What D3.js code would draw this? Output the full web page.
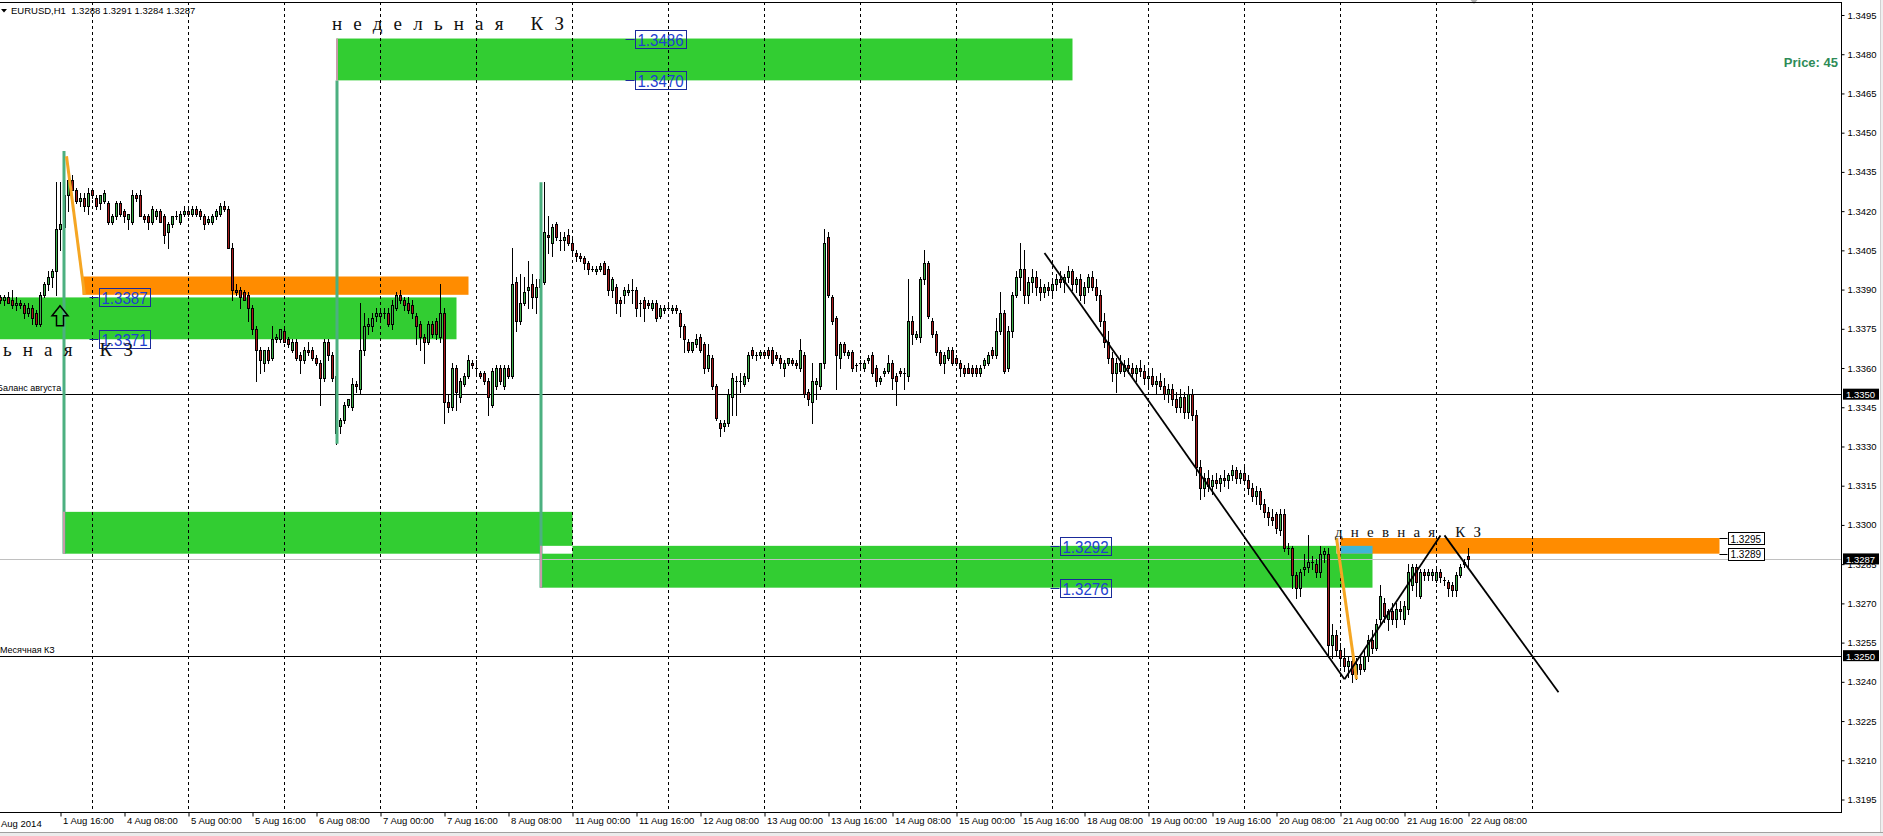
<!DOCTYPE html>
<html>
<head>
<meta charset="utf-8">
<script src="https://cdn.jsdelivr.net/npm/d3@7/dist/d3.min.js"></script>
<style>
  html, body { margin: 0; padding: 0; background: #fff; overflow: hidden; }
  svg { display: block; }
</style>
</head>
<body>
<div id="chart"></div>
<script>
// EURUSD H1 bars, [open, high, low, close]
// Fri 1 Aug, 01:00 .. 23:00
const fri01Aug = [
  [1.3387,1.3388,1.3385,1.3386],[1.3386,1.3388,1.3384,1.3387],[1.3387,1.3389,1.3385,1.3385],[1.3386,1.3390,1.3383,1.3384],
  [1.3384,1.3387,1.3382,1.3385],[1.3385,1.3386,1.3383,1.3384],[1.3384,1.3385,1.3379,1.3381],[1.3381,1.3385,1.3380,1.3383],
  [1.3383,1.3384,1.3377,1.3379],[1.3381,1.3382,1.3376,1.3377],[1.3377,1.3389,1.3376,1.3388],[1.3388,1.3393,1.3387,1.3392],
  [1.3392,1.3397,1.3390,1.3395],[1.3395,1.3398,1.3391,1.3397],[1.3397,1.3431,1.3388,1.3413],[1.3413,1.3431,1.3405,1.3415],
  [1.3414,1.3443,1.3407,1.3426],[1.3426,1.3435,1.3420,1.3432],[1.3432,1.3434,1.3428,1.3428],[1.3428,1.3429,1.3423,1.3424],
  [1.3424,1.3427,1.3422,1.3425],[1.3425,1.3427,1.3420,1.3422],[1.3422,1.3429,1.3419,1.3427]
];
// Mon 4 Aug .. Fri 8 Aug
const week04Aug = [
  // 4 Aug
  [1.3428,1.3429,1.3425,1.3426],[1.3425,1.3426,1.3421,1.3422],[1.3423,1.3426,1.3421,1.3426],[1.3424,1.3428,1.3423,1.3427],
  [1.3423,1.3424,1.3415,1.3416],[1.3416,1.3419,1.3415,1.3418],[1.3418,1.3424,1.3417,1.3423],[1.3423,1.3424,1.3418,1.3419],
  [1.3420,1.3421,1.3416,1.3418],[1.3417,1.3419,1.3413,1.3419],[1.3416,1.3428,1.3415,1.3426],[1.3426,1.3427,1.3424,1.3425],
  [1.3426,1.3428,1.3418,1.3418],[1.3418,1.3419,1.3416,1.3417],[1.3418,1.3419,1.3413,1.3416],[1.3416,1.3422,1.3415,1.3421],
  [1.3418,1.3421,1.3417,1.3420],[1.3420,1.3421,1.3416,1.3416],[1.3418,1.3419,1.3408,1.3411],[1.3412,1.3416,1.3406,1.3415],
  [1.3415,1.3418,1.3414,1.3418],[1.3418,1.3420,1.3417,1.3418],[1.3416,1.3420,1.3415,1.3419],[1.3419,1.3422,1.3418,1.3420],
  // 5 Aug
  [1.3420,1.3421,1.3418,1.3419],[1.3419,1.3422,1.3418,1.3421],[1.3421,1.3422,1.3418,1.3419],[1.3420,1.3421,1.3417,1.3418],
  [1.3418,1.3419,1.3413,1.3415],[1.3416,1.3418,1.3415,1.3417],[1.3416,1.3419,1.3415,1.3418],[1.3418,1.3421,1.3417,1.3420],
  [1.3419,1.3423,1.3418,1.3422],[1.3422,1.3424,1.3420,1.3421],[1.3421,1.3422,1.3406,1.3406],[1.3406,1.3408,1.3386,1.3390],
  [1.3390,1.3392,1.3388,1.3389],[1.3390,1.3391,1.3383,1.3387],[1.3389,1.3390,1.3386,1.3386],[1.3388,1.3389,1.3378,1.3383],
  [1.3383,1.3384,1.3373,1.3375],[1.3375,1.3376,1.3355,1.3367],[1.3367,1.3368,1.3358,1.3363],[1.3362,1.3367,1.3359,1.3367],
  [1.3367,1.3368,1.3362,1.3363],[1.3364,1.3376,1.3363,1.3371],[1.3371,1.3373,1.3370,1.3372],[1.3371,1.3375,1.3370,1.3375],
  // 6 Aug
  [1.3374,1.3375,1.3370,1.3370],[1.3371,1.3372,1.3368,1.3369],[1.3367,1.3371,1.3366,1.3370],[1.3370,1.3371,1.3363,1.3364],
  [1.3365,1.3366,1.3358,1.3363],[1.3363,1.3368,1.3362,1.3367],[1.3367,1.3370,1.3365,1.3366],[1.3367,1.3368,1.3363,1.3364],
  [1.3364,1.3365,1.3361,1.3362],[1.3362,1.3363,1.3346,1.3356],[1.3356,1.3371,1.3355,1.3370],[1.3370,1.3371,1.3363,1.3365],
  [1.3365,1.3366,1.3355,1.3356],[1.3357,1.3358,1.3331,1.3335],[1.3338,1.3341,1.3335,1.3340],[1.3340,1.3347,1.3339,1.3346],
  [1.3346,1.3348,1.3345,1.3348],[1.3345,1.3356,1.3344,1.3354],[1.3354,1.3355,1.3351,1.3353],[1.3352,1.3385,1.3350,1.3367],
  [1.3367,1.3381,1.3365,1.3376],[1.3376,1.3379,1.3373,1.3377],[1.3376,1.3381,1.3374,1.3379],[1.3380,1.3383,1.3378,1.3381],
  // 7 Aug
  [1.3380,1.3383,1.3378,1.3381],[1.3381,1.3383,1.3379,1.3381],[1.3381,1.3383,1.3376,1.3377],[1.3377,1.3386,1.3375,1.3384],
  [1.3383,1.3389,1.3382,1.3388],[1.3388,1.3390,1.3385,1.3386],[1.3386,1.3387,1.3382,1.3384],[1.3385,1.3387,1.3381,1.3382],
  [1.3384,1.3386,1.3379,1.3381],[1.3380,1.3381,1.3369,1.3376],[1.3377,1.3378,1.3367,1.3372],[1.3372,1.3373,1.3362,1.3370],
  [1.3370,1.3378,1.3369,1.3377],[1.3377,1.3378,1.3372,1.3373],[1.3378,1.3379,1.3371,1.3373],[1.3372,1.3392,1.3370,1.3381],
  [1.3381,1.3383,1.3339,1.3347],[1.3347,1.3350,1.3343,1.3345],[1.3345,1.3362,1.3344,1.3360],[1.3360,1.3361,1.3344,1.3351],
  [1.3349,1.3356,1.3347,1.3355],[1.3354,1.3358,1.3353,1.3357],[1.3357,1.3365,1.3356,1.3363],[1.3362,1.3363,1.3360,1.3361],
  // 8 Aug
  [1.3360,1.3363,1.3357,1.3360],[1.3358,1.3359,1.3356,1.3357],[1.3358,1.3359,1.3354,1.3355],[1.3355,1.3356,1.3342,1.3349],
  [1.3346,1.3360,1.3345,1.3359],[1.3353,1.3361,1.3352,1.3360],[1.3360,1.3361,1.3354,1.3355],[1.3353,1.3361,1.3352,1.3360],
  [1.3360,1.3361,1.3356,1.3357],[1.3357,1.3406,1.3356,1.3392],[1.3393,1.3395,1.3374,1.3378],[1.3378,1.3396,1.3377,1.3385],
  [1.3385,1.3395,1.3384,1.3389],[1.3390,1.3401,1.3383,1.3391],[1.3392,1.3396,1.3383,1.3387],[1.3387,1.3394,1.3381,1.3391],
  [1.3391,1.3395,1.3389,1.3394],[1.3393,1.3431,1.3392,1.3412],[1.3411,1.3418,1.3404,1.3410],[1.3408,1.3415,1.3403,1.3414],
  [1.3415,1.3416,1.3409,1.3410],[1.3409,1.3412,1.3405,1.3409],[1.3409,1.3412,1.3405,1.3410],[1.3411,1.3413,1.3407,1.3408]
];
// Mon 11 Aug .. Fri 15 Aug
const week11Aug = [
  // 11 Aug
  [1.3408,1.3410,1.3404,1.3405],[1.3404,1.3405,1.3401,1.3403],[1.3403,1.3404,1.3401,1.3402],[1.3402,1.3403,1.3398,1.3400],
  [1.3400,1.3401,1.3396,1.3398],[1.3398,1.3399,1.3397,1.3398],[1.3397,1.3399,1.3396,1.3398],[1.3398,1.3400,1.3397,1.3399],
  [1.3400,1.3401,1.3396,1.3396],[1.3398,1.3399,1.3388,1.3390],[1.3390,1.3395,1.3387,1.3394],[1.3391,1.3392,1.3381,1.3385],
  [1.3386,1.3387,1.3380,1.3385],[1.3388,1.3391,1.3385,1.3390],[1.3389,1.3392,1.3388,1.3390],[1.3390,1.3394,1.3385,1.3390],
  [1.3390,1.3391,1.3380,1.3383],[1.3385,1.3386,1.3380,1.3385],[1.3386,1.3387,1.3378,1.3383],[1.3385,1.3386,1.3383,1.3384],
  [1.3383,1.3386,1.3382,1.3385],[1.3385,1.3386,1.3378,1.3379],[1.3380,1.3384,1.3379,1.3383],[1.3382,1.3384,1.3381,1.3383],
  // 12 Aug
  [1.3383,1.3384,1.3382,1.3383],[1.3382,1.3384,1.3381,1.3383],[1.3383,1.3384,1.3381,1.3382],[1.3381,1.3382,1.3372,1.3376],
  [1.3376,1.3377,1.3366,1.3371],[1.3370,1.3371,1.3366,1.3367],[1.3367,1.3370,1.3366,1.3370],[1.3369,1.3373,1.3368,1.3371],
  [1.3372,1.3373,1.3366,1.3367],[1.3369,1.3370,1.3358,1.3360],[1.3360,1.3369,1.3359,1.3365],[1.3364,1.3365,1.3352,1.3353],
  [1.3353,1.3354,1.3340,1.3341],[1.3339,1.3340,1.3334,1.3337],[1.3338,1.3340,1.3336,1.3339],[1.3339,1.3352,1.3338,1.3350],
  [1.3349,1.3358,1.3342,1.3356],[1.3355,1.3357,1.3342,1.3355],[1.3355,1.3358,1.3351,1.3355],[1.3354,1.3358,1.3353,1.3357],
  [1.3356,1.3366,1.3355,1.3365],[1.3367,1.3368,1.3364,1.3365],[1.3365,1.3366,1.3363,1.3365],[1.3365,1.3367,1.3364,1.3366],
  // 13 Aug
  [1.3366,1.3367,1.3364,1.3365],[1.3367,1.3368,1.3364,1.3365],[1.3367,1.3368,1.3361,1.3362],[1.3365,1.3366,1.3363,1.3364],
  [1.3364,1.3365,1.3360,1.3362],[1.3360,1.3363,1.3357,1.3362],[1.3362,1.3364,1.3361,1.3364],[1.3363,1.3364,1.3361,1.3362],
  [1.3362,1.3363,1.3360,1.3361],[1.3360,1.3371,1.3359,1.3367],[1.3365,1.3366,1.3349,1.3350],[1.3351,1.3352,1.3346,1.3348],
  [1.3347,1.3362,1.3339,1.3355],[1.3354,1.3356,1.3348,1.3355],[1.3353,1.3362,1.3352,1.3362],[1.3362,1.3413,1.3360,1.3408],
  [1.3410,1.3412,1.3387,1.3388],[1.3387,1.3388,1.3377,1.3378],[1.3379,1.3380,1.3352,1.3365],[1.3364,1.3370,1.3360,1.3369],
  [1.3369,1.3370,1.3365,1.3366],[1.3365,1.3367,1.3364,1.3366],[1.3366,1.3367,1.3359,1.3360],[1.3361,1.3362,1.3359,1.3361],
  // 14 Aug
  [1.3362,1.3363,1.3360,1.3362],[1.3360,1.3363,1.3359,1.3362],[1.3363,1.3365,1.3362,1.3364],[1.3365,1.3366,1.3357,1.3358],
  [1.3360,1.3361,1.3353,1.3355],[1.3355,1.3357,1.3354,1.3356],[1.3358,1.3360,1.3357,1.3359],[1.3359,1.3365,1.3358,1.3362],
  [1.3362,1.3363,1.3352,1.3356],[1.3357,1.3358,1.3346,1.3355],[1.3359,1.3360,1.3357,1.3358],[1.3358,1.3360,1.3352,1.3358],
  [1.3357,1.3394,1.3355,1.3378],[1.3378,1.3380,1.3369,1.3373],[1.3372,1.3374,1.3371,1.3373],[1.3372,1.3395,1.3370,1.3394],
  [1.3394,1.3405,1.3392,1.3400],[1.3400,1.3401,1.3379,1.3380],[1.3378,1.3379,1.3372,1.3373],[1.3373,1.3374,1.3365,1.3366],
  [1.3366,1.3367,1.3361,1.3362],[1.3362,1.3366,1.3358,1.3365],[1.3364,1.3368,1.3363,1.3367],[1.3367,1.3368,1.3361,1.3362],
  // 15 Aug
  [1.3364,1.3365,1.3361,1.3362],[1.3362,1.3363,1.3357,1.3360],[1.3360,1.3361,1.3357,1.3358],[1.3360,1.3362,1.3358,1.3358],
  [1.3360,1.3361,1.3357,1.3358],[1.3360,1.3361,1.3357,1.3358],[1.3358,1.3361,1.3357,1.3360],[1.3361,1.3364,1.3360,1.3363],
  [1.3362,1.3366,1.3361,1.3365],[1.3367,1.3368,1.3364,1.3365],[1.3365,1.3379,1.3364,1.3374],[1.3374,1.3389,1.3373,1.3381],
  [1.3381,1.3382,1.3358,1.3359],[1.3360,1.3376,1.3359,1.3374],[1.3374,1.3389,1.3372,1.3388],[1.3388,1.3397,1.3387,1.3395],
  [1.3395,1.3408,1.3390,1.3398],[1.3398,1.3405,1.3385,1.3388],[1.3388,1.3395,1.3385,1.3393],[1.3393,1.3398,1.3389,1.3395],
  [1.3395,1.3397,1.3388,1.3391],[1.3391,1.3394,1.3386,1.3389],[1.3389,1.3392,1.3387,1.3391],[1.3391,1.3393,1.3388,1.3390]
];
// Mon 18 Aug .. Fri 22 Aug 08:00
const week18Aug = [
  // 18 Aug
  [1.3390,1.3394,1.3387,1.3392],[1.3392,1.3396,1.3390,1.3394],[1.3394,1.3397,1.3391,1.3393],[1.3393,1.3396,1.3389,1.3395],
  [1.3395,1.3399,1.3393,1.3397],[1.3397,1.3398,1.3390,1.3392],[1.3392,1.3395,1.3389,1.3394],[1.3394,1.3396,1.3386,1.3388],
  [1.3388,1.3393,1.3385,1.3391],[1.3391,1.3396,1.3389,1.3395],[1.3395,1.3397,1.3390,1.3391],[1.3391,1.3394,1.3386,1.3388],
  [1.3388,1.3390,1.3376,1.3378],[1.3378,1.3381,1.3368,1.3370],[1.3370,1.3374,1.3362,1.3364],[1.3364,1.3366,1.3355,1.3358],
  [1.3358,1.3364,1.3351,1.3362],[1.3362,1.3365,1.3358,1.3359],[1.3359,1.3363,1.3357,1.3361],[1.3361,1.3364,1.3358,1.3360],
  [1.3360,1.3362,1.3356,1.3358],[1.3358,1.3361,1.3355,1.3360],[1.3360,1.3363,1.3357,1.3359],[1.3359,1.3361,1.3354,1.3356],
  // 19 Aug
  [1.3356,1.3359,1.3352,1.3357],[1.3357,1.3360,1.3353,1.3354],[1.3354,1.3357,1.3350,1.3355],[1.3355,1.3358,1.3352,1.3353],
  [1.3353,1.3356,1.3348,1.3350],[1.3350,1.3354,1.3347,1.3352],[1.3352,1.3354,1.3346,1.3348],[1.3348,1.3351,1.3343,1.3345],
  [1.3345,1.3352,1.3343,1.3349],[1.3349,1.3351,1.3341,1.3343],[1.3343,1.3353,1.3341,1.3350],[1.3350,1.3352,1.3340,1.3342],
  [1.3342,1.3344,1.3319,1.3322],[1.3322,1.3325,1.3310,1.3314],[1.3314,1.3320,1.3311,1.3318],[1.3318,1.3321,1.3313,1.3315],
  [1.3315,1.3319,1.3312,1.3317],[1.3317,1.3320,1.3314,1.3316],[1.3316,1.3319,1.3313,1.3318],[1.3318,1.3321,1.3315,1.3317],
  [1.3317,1.3320,1.3314,1.3319],[1.3319,1.3323,1.3317,1.3321],[1.3321,1.3322,1.3316,1.3318],[1.3318,1.3321,1.3316,1.3320],
  // 20 Aug
  [1.3320,1.3322,1.3316,1.3317],[1.3317,1.3319,1.3312,1.3314],[1.3314,1.3316,1.3309,1.3311],[1.3311,1.3315,1.3308,1.3313],
  [1.3313,1.3314,1.3306,1.3308],[1.3308,1.3310,1.3303,1.3305],[1.3305,1.3307,1.3300,1.3303],[1.3303,1.3306,1.3300,1.3302],
  [1.3304,1.3305,1.3297,1.3299],[1.3298,1.3306,1.3296,1.3304],[1.3304,1.3306,1.3290,1.3291],[1.3291,1.3293,1.3289,1.3291],
  [1.3291,1.3292,1.3276,1.3281],[1.3281,1.3282,1.3272,1.3276],[1.3276,1.3283,1.3273,1.3282],[1.3283,1.3289,1.3281,1.3284],
  [1.3284,1.3296,1.3282,1.3286],[1.3286,1.3288,1.3283,1.3286],[1.3285,1.3287,1.3280,1.3282],[1.3282,1.3292,1.3280,1.3289],
  [1.3289,1.3291,1.3286,1.3290],[1.3289,1.3291,1.3250,1.3254],[1.3254,1.3262,1.3249,1.3258],[1.3258,1.3260,1.3250,1.3252],
  // 21 Aug
  [1.3252,1.3255,1.3246,1.3249],[1.3249,1.3253,1.3244,1.3246],[1.3246,1.3250,1.3242,1.3248],[1.3248,1.3251,1.3240,1.3243],
  [1.3243,1.3249,1.3241,1.3247],[1.3247,1.3250,1.3243,1.3245],[1.3245,1.3252,1.3244,1.3250],[1.3250,1.3258,1.3248,1.3256],
  [1.3256,1.3260,1.3251,1.3253],[1.3253,1.3264,1.3252,1.3262],[1.3264,1.3277,1.3262,1.3273],[1.3270,1.3272,1.3263,1.3265],
  [1.3264,1.3268,1.3260,1.3267],[1.3267,1.3270,1.3262,1.3264],[1.3264,1.3270,1.3261,1.3268],[1.3268,1.3271,1.3264,1.3267],
  [1.3264,1.3271,1.3262,1.3269],[1.3268,1.3285,1.3266,1.3282],[1.3277,1.3285,1.3275,1.3284],[1.3284,1.3285,1.3273,1.3278],
  [1.3273,1.3283,1.3272,1.3282],[1.3282,1.3283,1.3279,1.3281],[1.3281,1.3283,1.3279,1.3282],[1.3281,1.3283,1.3279,1.3282],
  // 22 Aug
  [1.3279,1.3284,1.3278,1.3282],[1.3282,1.3283,1.3278,1.3280],[1.3279,1.3280,1.3277,1.3279],[1.3278,1.3279,1.3273,1.3276],
  [1.3277,1.3278,1.3273,1.3275],[1.3275,1.3282,1.3273,1.3281],[1.3281,1.3285,1.3280,1.3284],[1.3285,1.3287,1.3284,1.3286],
  [1.3288,1.3291,1.3284,1.3287]
];

const tradingDays = [1, 4, 5, 6, 7, 8, 11, 12, 13, 14, 15, 18, 19, 20, 21, 22, 25, 26];
const priceTicks = [1.3495, 1.3480, 1.3465, 1.3450, 1.3435, 1.3420, 1.3405, 1.3390, 1.3375, 1.3360, 1.3345,
  1.3330, 1.3315, 1.3300, 1.3285, 1.3270, 1.3255, 1.3240, 1.3225, 1.3210, 1.3195];
const timeLabels = ["1 Aug 16:00", "4 Aug 08:00", "5 Aug 00:00", "5 Aug 16:00", "6 Aug 08:00", "7 Aug 00:00",
  "7 Aug 16:00", "8 Aug 08:00", "11 Aug 00:00", "11 Aug 16:00", "12 Aug 08:00", "13 Aug 00:00", "13 Aug 16:00",
  "14 Aug 08:00", "15 Aug 00:00", "15 Aug 16:00", "18 Aug 08:00", "19 Aug 00:00", "19 Aug 16:00", "20 Aug 08:00",
  "21 Aug 00:00", "21 Aug 16:00", "22 Aug 08:00"];
const gridDays = ["4 Aug", "5 Aug", "6 Aug", "7 Aug", "8 Aug", "11 Aug", "12 Aug", "13 Aug", "14 Aug", "15 Aug",
  "18 Aug", "19 Aug", "20 Aug", "21 Aug", "22 Aug", "25 Aug"];

// zones: [from, to, top price, bottom price, colour]
const zones = [
  ["6 Aug 13:00", "18 Aug 05:00", 1.3486, 1.3470, "#32cd32"],
  ["1 Aug 00:00", "7 Aug 19:00", 1.3387, 1.3371, "#32cd32"],
  ["1 Aug 17:00", "11 Aug 00:00", 1.3305, 1.3289, "#32cd32"],
  ["8 Aug 16:00", "21 Aug 08:00", 1.3292, 1.3276, "#32cd32"],
  ["1 Aug 21:30", "7 Aug 22:00", 1.3395, 1.3388, "#ff8c00"],
  ["20 Aug 23:00", "26 Aug 22:45", 1.3295, 1.3289, "#ff8c00"],
  ["8 Aug 16:00", "11 Aug 00:00", 1.3292, 1.3289, "#ffffff"],
  ["21 Aug 00:00", "21 Aug 08:00", 1.3292, 1.3289, "#3fb6d6"],
  ["20 Aug 23:00", "21 Aug 00:00", 1.3295, 1.3289, "#eedcec"]
];
// vertical marker lines: [time, from price, to price, edge price inside its zone]
const markers = [
  ["1 Aug 17:00", 1.3443, 1.3289, 1.3305],
  ["6 Aug 13:00", 1.3331, 1.3470, 1.3486],
  ["8 Aug 16:00", 1.3431, 1.3276, 1.3292]
];
const orangeLines = [
  [["1 Aug 17:30", 1.3441], ["1 Aug 22:00", 1.3388]],
  [["20 Aug 23:00", 1.3295], ["21 Aug 04:00", 1.3241]]
];
const trendLines = [
  [["15 Aug 22:00", 1.3404], ["21 Aug 01:00", 1.3241]],
  [["21 Aug 01:00", 1.3241], ["22 Aug 01:00", 1.3296]],
  [["22 Aug 02:00", 1.3296], ["25 Aug 06:30", 1.3236]]
];
const blueLabels = [["11 Aug 15:30", 1.3486], ["11 Aug 15:30", 1.3470], ["4 Aug 01:30", 1.3387], ["4 Aug 01:30", 1.3371],
  ["18 Aug 01:45", 1.3292], ["18 Aug 01:45", 1.3276]];
const blackLabels = [["26 Aug 22:45", 1.3295], ["26 Aug 22:45", 1.3289]];
const hLines = [[1.3350, "Баланс августа"], [1.3250, "Месячная КЗ"]];
const bid = 1.3287;

const W = 1883, H = 836, plotRight = 1841, plotTop = 2, plotBottom = 812;

function barIndex(s) {
  const m = s.match(/(\d+) Aug (\d+):(\d+)/);
  return (tradingDays.indexOf(+m[1]) - 1) * 24 + (+m[2]) + (+m[3]) / 60;
}

const x = d3.scaleLinear().domain([barIndex("4 Aug 00:00"), barIndex("25 Aug 00:00")]).range([92.5, 1532.5]);
const y = d3.scaleLinear().domain([1.3495, 1.3195]).range([15, 799.5]);
const X = s => x(barIndex(s));

const svg = d3.select("#chart").append("svg")
  .attr("width", W).attr("height", H)
  .style("font-family", "'Liberation Sans', Arial, sans-serif");

svg.append("rect").attr("width", W).attr("height", H).attr("fill", "#fff");
svg.append("clipPath").attr("id", "plotclip").append("rect")
  .attr("x", 0).attr("y", plotTop).attr("width", plotRight).attr("height", plotBottom - plotTop);
const plot = svg.append("g").attr("clip-path", "url(#plotclip)");

// zones
plot.append("g").selectAll("rect").data(zones).join("rect")
  .attr("x", d => X(d[0])).attr("width", d => X(d[1]) - X(d[0]))
  .attr("y", d => y(d[2])).attr("height", d => y(d[3]) - y(d[2]))
  .attr("fill", d => d[4]);

// day grid
plot.append("g").selectAll("line").data(gridDays).join("line")
  .attr("x1", d => Math.floor(X(d + " 00:00")) + 0.5).attr("x2", d => Math.floor(X(d + " 00:00")) + 0.5)
  .attr("y1", plotTop).attr("y2", plotBottom)
  .attr("stroke", "#000").attr("stroke-dasharray", "3,3");

// horizontal lines
plot.append("g").selectAll("line").data(hLines).join("line")
  .attr("x1", 0).attr("x2", plotRight)
  .attr("y1", d => Math.round(y(d[0])) + 0.5).attr("y2", d => Math.round(y(d[0])) + 0.5)
  .attr("stroke", "#000");
plot.append("line").attr("x1", 0).attr("x2", plotRight)
  .attr("y1", Math.round(y(bid)) + 0.5).attr("y2", Math.round(y(bid)) + 0.5)
  .attr("stroke", "#c0c0c0");
plot.append("g").selectAll("text").data(hLines).join("text")
  .attr("x", (d, i) => i === 0 ? -3 : 0).attr("y", d => Math.round(y(d[0])) - 3)
  .attr("font-size", 9).attr("fill", "#000").text(d => d[1]);

// candles
const allBars = fri01Aug.concat(week04Aug, week11Aug, week18Aug);
const first = barIndex("1 Aug 01:00");
const cg = plot.append("g");
allBars.forEach((b, i) => {
  const [o, h, l, c] = b;
  const cx = x(first + i);
  cg.append("line").attr("x1", cx).attr("x2", cx)
    .attr("y1", Math.round(y(h))).attr("y2", Math.round(y(l)) + 1).attr("stroke", "#000");
  const top = Math.round(y(Math.max(o, c))) + 0.5, bot = Math.round(y(Math.min(o, c))) + 0.5;
  if (bot - top < 1) {
    cg.append("line").attr("x1", cx - 1.5).attr("x2", cx + 1.5).attr("y1", top).attr("y2", top).attr("stroke", "#000");
  } else {
    cg.append("rect").attr("x", cx - 1).attr("width", 2).attr("y", top).attr("height", bot - top)
      .attr("fill", c >= o ? "#3fb04a" : "#a81c1c").attr("stroke", "#000").attr("stroke-width", 1);
  }
});

// vertical marker lines from extremes to the zones
markers.forEach(m => {
  const mx = Math.round(X(m[0]));
  plot.append("line").attr("x1", mx).attr("x2", mx).attr("y1", y(m[1])).attr("y2", y(m[2]))
    .attr("stroke", "#4cb080").attr("stroke-width", 3);
  plot.append("line").attr("x1", mx).attr("x2", mx).attr("y1", y(m[3])).attr("y2", y(m[2]))
    .attr("stroke", "#c79aa8").attr("stroke-width", 2);
});

// orange and black trend lines
plot.append("g").selectAll("line").data(orangeLines).join("line")
  .attr("x1", d => X(d[0][0])).attr("y1", d => y(d[0][1]))
  .attr("x2", d => X(d[1][0])).attr("y2", d => y(d[1][1]))
  .attr("stroke", "#f5a623").attr("stroke-width", 3);
plot.append("g").selectAll("line").data(trendLines).join("line")
  .attr("x1", d => X(d[0][0])).attr("y1", d => y(d[0][1]))
  .attr("x2", d => X(d[1][0])).attr("y2", d => y(d[1][1]))
  .attr("stroke", "#000").attr("stroke-width", 1.8);

// up arrow
const ax = 60, ay = y(1.3380);
plot.append("path")
  .attr("d", `M${ax},${ay - 10} L${ax + 8},${ay} L${ax + 3.5},${ay} L${ax + 3.5},${ay + 10} L${ax - 3.5},${ay + 10} L${ax - 3.5},${ay} L${ax - 8},${ay} Z`)
  .attr("fill", "none").attr("stroke", "#000").attr("stroke-width", 1.5);

// price labels
blueLabels.forEach(d => {
  const lx = X(d[0]), ly = y(d[1]);
  plot.append("line").attr("x1", lx - 9).attr("x2", lx).attr("y1", Math.round(ly) + 0.5).attr("y2", Math.round(ly) + 0.5)
    .attr("stroke", "#1a2a9a");
  plot.append("rect").attr("x", Math.round(lx) + 0.5).attr("y", Math.round(ly) - 8.5).attr("width", 51).attr("height", 18)
    .attr("fill", "none").attr("stroke", "#1a2a9a");
  plot.append("text").attr("x", lx + 3).attr("y", ly + 7).attr("font-size", 16).attr("fill", "#1f3fd0")
    .attr("textLength", 46).attr("lengthAdjust", "spacingAndGlyphs").text(d[1].toFixed(4));
});
blackLabels.forEach(d => {
  const lx = X(d[0]), ly = y(d[1]);
  plot.append("line").attr("x1", lx).attr("x2", lx + 8).attr("y1", Math.round(ly) + 0.5).attr("y2", Math.round(ly) + 0.5)
    .attr("stroke", "#000");
  plot.append("rect").attr("x", Math.round(lx) + 8.5).attr("y", Math.round(ly) - 5.5).attr("width", 36).attr("height", 12)
    .attr("fill", "#fff").attr("stroke", "#000");
  plot.append("text").attr("x", lx + 11).attr("y", ly + 4.5).attr("font-size", 10).attr("fill", "#000")
    .text(d[1].toFixed(4));
});

// big texts
plot.append("text").attr("x", 332).attr("y", 29.5).attr("font-family", "'Liberation Serif', serif").attr("font-size", 19)
  .attr("textLength", 232).attr("lengthAdjust", "spacing").attr("fill", "#111").text("недельная КЗ");
plot.append("text").attr("x", -99).attr("y", 355.5).attr("font-family", "'Liberation Serif', serif").attr("font-size", 19)
  .attr("textLength", 232).attr("lengthAdjust", "spacing").attr("fill", "#111").text("недельная КЗ");
plot.append("text").attr("x", 1335).attr("y", 537).attr("font-family", "'Liberation Serif', serif").attr("font-size", 15)
  .attr("textLength", 146).attr("lengthAdjust", "spacing").attr("fill", "#111").text("дневная КЗ");

svg.append("text").attr("x", 1838).attr("y", 67).attr("text-anchor", "end")
  .attr("font-size", 13).attr("font-weight", "bold").attr("fill", "#2e8b57").text("Price: 45");

// header
svg.append("path").attr("d", "M1,9 L7,9 L4,12.5 Z").attr("fill", "#000");
svg.append("text").attr("x", 11).attr("y", 14).attr("font-size", 9.5).attr("fill", "#000")
  .attr("xml:space", "preserve").text("EURUSD,H1  1.3288 1.3291 1.3284 1.3287");
svg.append("path").attr("d", `M${X("22 Aug 08:00") + 2},0 L${X("22 Aug 08:00") + 9},0 L${X("22 Aug 08:00") + 5.5},4 Z`)
  .attr("fill", "#b0b0b0");

// frame
svg.append("line").attr("x1", 0).attr("x2", plotRight + 0.5).attr("y1", plotTop + 0.5).attr("y2", plotTop + 0.5).attr("stroke", "#000");
svg.append("line").attr("x1", 0).attr("x2", plotRight + 0.5).attr("y1", plotBottom + 0.5).attr("y2", plotBottom + 0.5).attr("stroke", "#000");
svg.append("line").attr("x1", plotRight + 0.5).attr("x2", plotRight + 0.5).attr("y1", plotTop).attr("y2", plotBottom + 1).attr("stroke", "#000");

// price axis
const yAxis = svg.append("g").attr("transform", `translate(${plotRight + 0.5},0)`)
  .call(d3.axisRight(y).tickValues(priceTicks).tickSize(3).tickPadding(3).tickFormat(d3.format(".4f")));
yAxis.select(".domain").remove();
yAxis.selectAll("text").attr("font-size", 9.5).attr("font-family", "'Liberation Sans', Arial, sans-serif").attr("fill", "#000");

[1.3350, bid, 1.3250].forEach(p => {
  const ly = y(p);
  svg.append("rect").attr("x", plotRight + 2).attr("y", ly - 5.5).attr("width", 36).attr("height", 11).attr("fill", "#000");
  svg.append("text").attr("x", plotRight + 5).attr("y", ly + 4).attr("font-size", 9.5).attr("fill", "#fff")
    .text(p.toFixed(4));
});

// time axis
const xAxis = svg.append("g").attr("transform", `translate(0,${plotBottom + 0.5})`)
  .call(d3.axisBottom(x).tickValues(timeLabels.map(barIndex)).tickSize(4).tickFormat((d, i) => timeLabels[i]));
xAxis.select(".domain").remove();
xAxis.selectAll("text").attr("text-anchor", "start").attr("x", 2).attr("dy", "0.5em")
  .attr("font-size", 9.5).attr("font-family", "'Liberation Sans', Arial, sans-serif").attr("fill", "#000");
svg.append("text").attr("x", 1).attr("y", 827).attr("font-size", 9.5).attr("fill", "#000").text("Aug 2014");

// window edges
svg.append("rect").attr("x", 0).attr("y", 832).attr("width", W).attr("height", 4).attr("fill", "#ececec");
svg.append("line").attr("x1", 0).attr("x2", W).attr("y1", 832.5).attr("y2", 832.5).attr("stroke", "#a0a0a0");
svg.append("rect").attr("x", 1880).attr("y", 0).attr("width", 3).attr("height", 832).attr("fill", "#efefef");
svg.append("line").attr("x1", 1880.5).attr("x2", 1880.5).attr("y1", 0).attr("y2", 832).attr("stroke", "#d0d0d0");
</script>
</body>
</html>
